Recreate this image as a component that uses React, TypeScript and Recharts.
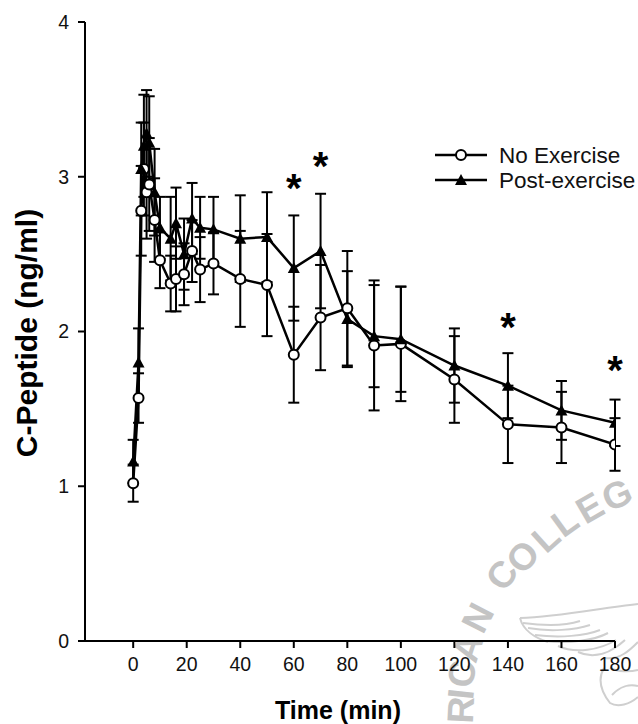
import React from "react";
import { ComposedChart, Line, XAxis, YAxis, ErrorBar, ReferenceDot, Legend } from "recharts";

const times = [0, 2, 3, 4, 5, 6, 8, 10, 14, 16, 19, 22, 25, 30, 40, 50, 60, 70, 80, 90, 100, 120, 140, 160, 180];
const noExercise = [1.02, 1.57, 2.78, 3.05, 2.9, 2.95, 2.72, 2.46, 2.31, 2.34, 2.37, 2.52, 2.4, 2.44, 2.34, 2.3, 1.85, 2.09, 2.15, 1.91, 1.92, 1.69, 1.4, 1.38, 1.27];
const noExerciseErr = [0.12, 0.16, 0.29, 0.3, 0.3, 0.3, 0.27, 0.18, 0.18, 0.21, 0.2, 0.2, 0.21, 0.2, 0.31, 0.33, 0.31, 0.34, 0.37, 0.42, 0.37, 0.28, 0.25, 0.23, 0.17];
const postExercise = [1.16, 1.8, 3.05, 3.2, 3.28, 3.22, 2.9, 2.67, 2.6, 2.7, 2.5, 2.73, 2.67, 2.66, 2.6, 2.61, 2.41, 2.52, 2.08, 1.97, 1.95, 1.78, 1.65, 1.49, 1.41];
const postExerciseErr = [0.14, 0.22, 0.3, 0.33, 0.28, 0.3, 0.28, 0.2, 0.27, 0.23, 0.23, 0.23, 0.2, 0.21, 0.28, 0.29, 0.34, 0.37, 0.31, 0.33, 0.34, 0.24, 0.21, 0.19, 0.15];
const xTicks = [0, 20, 40, 60, 80, 100, 120, 140, 160, 180];
const yTicks = [0, 1, 2, 3, 4];
const stars = [
  { t: 60, v: 2.93 },
  { t: 70, v: 3.07 },
  { t: 140, v: 2.03 },
  { t: 180, v: 1.75 },
];
const watermark = [
  { ch: "G", x: 617, y: 495, r: -24 },
  { ch: "E", x: 590, y: 508, r: -30 },
  { ch: "L", x: 565, y: 522, r: -36 },
  { ch: "L", x: 546, y: 538, r: -42 },
  { ch: "O", x: 523, y: 557, r: -47 },
  { ch: "C", x: 502, y: 575, r: -53 },
  { ch: "N", x: 478, y: 618, r: -63 },
  { ch: "A", x: 468, y: 648, r: -72 },
  { ch: "C", x: 462, y: 674, r: -80 },
  { ch: "I", x: 461, y: 694, r: -84 },
  { ch: "R", x: 461, y: 710, r: -87 },
];

const rows = times.map((t, i) => ({
  t,
  noEx: noExercise[i],
  noExErr: noExerciseErr[i],
  post: postExercise[i],
  postErr: postExerciseErr[i],
}));

const FONT = "'Liberation Sans', Arial, sans-serif";

const CircleDot = (p: any) => (
  <circle key={p.index} cx={p.cx} cy={p.cy} r={5} fill="#fff" stroke="#000" strokeWidth={2} />
);
const TriangleDot = (p: any) => (
  <polygon
    key={p.index}
    points={`${p.cx},${p.cy - 6} ${p.cx + 6},${p.cy + 5} ${p.cx - 6},${p.cy + 5}`}
    fill="#000"
  />
);

const LegendBox = () => (
  <svg width={218} height={56} style={{ display: "block" }}>
    <line x1={15} x2={67} y1={12} y2={12} stroke="#000" strokeWidth={2.5} />
    <circle cx={41} cy={12} r={5} fill="#fff" stroke="#000" strokeWidth={2} />
    <text x={79} y={20} fontFamily={FONT} fontSize={22.5} fill="#111">No Exercise</text>
    <line x1={15} x2={67} y1={37} y2={37} stroke="#000" strokeWidth={2.5} />
    <polygon points="41,31 47,42 35,42" fill="#000" />
    <text x={79} y={45} fontFamily={FONT} fontSize={22.5} fill="#111">Post-exercise</text>
  </svg>
);

const YTitle = () => (
  <text
    x={37}
    y={333}
    transform="rotate(-90 37 333)"
    textAnchor="middle"
    fontFamily={FONT}
    fontSize={30}
    fontWeight="bold"
    fill="#000"
  >
    C-Peptide (ng/ml)
  </text>
);

export default function App() {
  return (
    <div style={{ position: "absolute", left: 0, top: 0, width: 638, height: 724, background: "#fff", overflow: "hidden" }}>
      <svg width={638} height={724} style={{ position: "absolute", left: 0, top: 0 }}>
        {watermark.map((w, i) => (
          <text
            key={i}
            x={w.x}
            y={w.y}
            transform={`rotate(${w.r} ${w.x} ${w.y})`}
            textAnchor="middle"
            dominantBaseline="central"
            fontFamily={FONT}
            fontWeight="bold"
            fontSize={37}
            fill="#c4c4c4"
          >
            {w.ch}
          </text>
        ))}
        <g fill="none" stroke="#cfcfcf" strokeWidth={2}>
          <path d="M520 618 C560 617 600 608 638 604" />
          <path d="M520 618 C523 630 535 638 548 642" />
          <path d="M523 623 C545 626 565 626 580 621" />
          <path d="M528 628 C550 632 575 630 590 625" />
          <path d="M535 635 C560 638 585 636 600 630" />
          <path d="M545 641 C570 644 595 640 608 633" />
          <path d="M558 646 C575 654 600 650 616 640" />
          <path d="M578 652 C595 660 612 652 625 640" />
          <path d="M605 658 C620 660 630 650 638 642" />
          <path d="M604 668 C598 678 600 690 610 703 C618 708 630 704 638 697" />
          <path d="M612 695 C620 686 630 684 638 686" />
          <path d="M610 668 C618 672 630 672 638 670" />
        </g>
      </svg>
      <ComposedChart
        width={638}
        height={724}
        data={rows}
        margin={{ top: 22, right: 23, bottom: 0, left: 0 }}
        style={{ position: "absolute", left: 0, top: 0 }}
      >
        <XAxis
          dataKey="t"
          type="number"
          domain={[-18, 180]}
          ticks={xTicks}
          interval={0}
          allowDataOverflow
          height={83}
          tickSize={7}
          tickMargin={9}
          axisLine={{ stroke: "#000", strokeWidth: 2 }}
          tickLine={{ stroke: "#000", strokeWidth: 2 }}
          tick={{ fontFamily: FONT, fontSize: 19.5, fill: "#111" }}
          label={{ value: "Time (min)", position: "insideBottom", offset: 5, dx: -12, fontFamily: FONT, fontSize: 25, fontWeight: "bold", fill: "#000" }}
        />
        <YAxis
          type="number"
          domain={[0, 4]}
          ticks={yTicks}
          interval={0}
          width={85}
          tickSize={7}
          tickMargin={9}
          axisLine={{ stroke: "#000", strokeWidth: 2 }}
          tickLine={{ stroke: "#000", strokeWidth: 2 }}
          tick={{ fontFamily: FONT, fontSize: 19.5, fill: "#111" }}
          label={{ value: "C-Peptide (ng/ml)", content: <YTitle /> }}
        />
        <Line
          dataKey="noEx"
          name="No Exercise"
          stroke="#000"
          strokeWidth={2.5}
          dot={CircleDot}
          activeDot={false}
          isAnimationActive={false}
        >
          <ErrorBar dataKey="noExErr" direction="y" width={5.5} stroke="#000" strokeWidth={2} isAnimationActive={false} />
        </Line>
        <Line
          dataKey="post"
          name="Post-exercise"
          stroke="#000"
          strokeWidth={2.5}
          dot={TriangleDot}
          activeDot={false}
          isAnimationActive={false}
        >
          <ErrorBar dataKey="postErr" direction="y" width={5.5} stroke="#000" strokeWidth={2} isAnimationActive={false} />
        </Line>
        {stars.map((s) => (
          <ReferenceDot
            key={s.t}
            x={s.t}
            y={s.v}
            r={0}
            fill="none"
            stroke="none"
            label={{ value: "*", position: "center", fontFamily: FONT, fontWeight: "bold", fontSize: 40, fill: "#000" }}
          />
        ))}
        <Legend
          content={<LegendBox />}
          layout="vertical"
          align="center"
          verticalAlign="middle"
          wrapperStyle={{ position: "absolute", left: 420, top: 143, width: 218, height: 56, bottom: "auto" }}
        />
      </ComposedChart>
    </div>
  );
}
